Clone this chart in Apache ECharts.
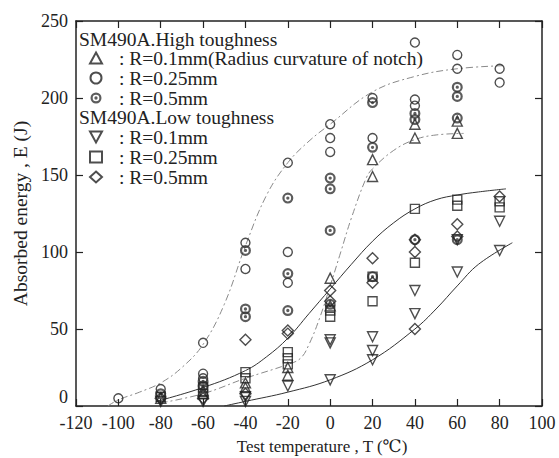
<!DOCTYPE html>
<html>
<head>
  <meta charset="utf-8">
  <title>Absorbed energy vs test temperature</title>
  <script src="https://cdn.jsdelivr.net/npm/echarts@6/dist/echarts.min.js"></script>
  <style>
    html, body { margin: 0; padding: 0; background: #fff; }
    #chart { width: 559px; height: 458px; }
  </style>
</head>
<body>
  <div id="chart"></div>
  <script>
    // SM490A high toughness, [temperature, energy]
    var hiR010 = [[-80,5],[-60,10],[-60,8],[-40,12],[-40,15],[-20,20],[-20,25],[0,83],[0,65],[20,160],[20,149],[40,183],[40,174],[60,185],[60,177]];
    var hiR025 = [[-100,5],[-80,11],[-60,41],[-60,21],[-60,18],[-40,106],[-40,89],[-20,158],[-20,100],[-20,80],[0,183],[0,174],[0,165],[20,200],[20,174],[40,236],[40,199],[40,195],[60,228],[60,219],[80,219],[80,210]];
    var hiR050 = [[-80,8],[-60,16],[-60,13],[-40,101],[-40,63],[-40,58],[-20,135],[-20,86],[-20,62],[0,148],[0,141],[0,114],[0,66],[20,197],[20,168],[20,84],[40,190],[40,186],[40,108],[60,207],[60,201],[60,187],[60,108]];
    // SM490A low toughness
    var loR010 = [[-80,3],[-60,3],[-40,3],[-40,6],[-20,13],[0,43],[0,41],[0,17],[20,45],[20,36],[20,30],[40,75],[40,60],[60,87],[60,108],[80,120],[80,101]];
    var loR025 = [[-80,6],[-60,8],[-60,12],[-40,22],[-40,18],[-20,35],[-20,31],[-20,27],[0,62],[0,58],[20,68],[20,84],[40,128],[40,93],[60,130],[60,134],[80,129],[80,133]];
    var loR050 = [[-80,5],[-60,5],[-40,43],[-40,8],[-20,47],[-20,49],[0,75],[0,68],[20,96],[20,80],[40,108],[40,100],[40,50],[60,118],[60,110],[80,136]];

    // hand drawn transition curves
    var curveHiR025 = [[-105,0],[-100,4],[-90,9],[-80,15],[-70,25],[-60,40],[-50,66],[-40,104],[-30,137],[-20,158],[-10,172],[0,183],[20,204],[40,214],[60,219],[82,221]];
    var curveHiR010 = [[-80,2],[-60,8],[-40,18],[-20,27],[-14,31],[-10,40],[-5,57],[0,78],[5,100],[10,122],[17,148],[20,154],[30,166],[40,173],[50,176],[63,177]];
    var curveLoR025 = [[-82,3],[-60,12],[-40,23],[-30,32],[-20,44],[-10,60],[0,76],[10,92],[20,107],[30,119],[40,128],[50,134],[60,137],[70,139],[83,141]];
    var curveLow = [[-50,0],[-40,3],[-20,9],[0,17],[20,30],[40,50],[50,63],[60,78],[70,92],[86,106]];

    var hiNames = ['hi01', 'hi025', 'hi05'];
    var loNames = ['lo01', 'lo025', 'lo05'];
    var labels = {
      hi01: ': R=0.1mm(Radius curvature of notch)',
      hi025: ': R=0.25mm',
      hi05: ': R=0.5mm',
      lo01: ': R=0.1mm',
      lo025: ': R=0.25mm',
      lo05: ': R=0.5mm'
    };

    var FONT = '"Liberation Serif", "DejaVu Serif", serif';
    var INK = '#222';
    var bullseye = 'path://M0,10A10,10,0,1,1,20,10A10,10,0,1,1,0,10ZM4,10A6,6,0,1,0,16,10A6,6,0,1,0,4,10ZM7,10A3,3,0,1,1,13,10A3,3,0,1,1,7,10Z';
    var triDown = 'path://M0,0L10,0L5,9Z';

    var hollow = { color: 'rgba(0,0,0,0)', borderColor: INK, borderWidth: 1.4 };

    function pointSeries(name, data, symbol, size, style) {
      return {
        name: name,
        type: 'scatter',
        data: data,
        symbol: symbol,
        symbolSize: size,
        itemStyle: style,
        z: 3
      };
    }

    function curveSeries(data, color, type) {
      return {
        type: 'line',
        data: data,
        smooth: 0.4,
        symbol: 'none',
        silent: true,
        lineStyle: { color: color, width: 1, type: type },
        z: 2
      };
    }

    function makeAxisX(pos, showLabel) {
      return {
        type: 'value',
        position: pos,
        min: -120, max: 100, interval: 20,
        axisLine: { onZero: false, lineStyle: { color: INK, width: 1.5 } },
        axisTick: { inside: true, length: 7, lineStyle: { color: INK, width: 1.2 } },
        axisLabel: { show: showLabel, margin: 8, fontSize: 18, fontFamily: FONT, color: INK },
        splitLine: { show: false }
      };
    }

    function makeAxisY(pos, showLabel) {
      return {
        type: 'value',
        position: pos,
        min: 0, max: 250, interval: 50,
        axisLine: { show: true, onZero: false, lineStyle: { color: INK, width: 1.5 } },
        axisTick: { show: true, inside: true, length: 7, lineStyle: { color: INK, width: 1.2 } },
        axisLabel: { show: showLabel, margin: 8, fontSize: 18, fontFamily: FONT, color: INK, verticalAlignMinLabel: 'bottom' },
        splitLine: { show: false }
      };
    }

    var xBottom = makeAxisX('bottom', true);
    xBottom.name = 'Test temperature , T (\u2103)';
    xBottom.nameLocation = 'middle';
    xBottom.nameGap = 32;
    xBottom.nameTextStyle = { fontSize: 17, fontFamily: FONT, color: INK, padding: [0, 0, 0, 26] };

    var yLeft = makeAxisY('left', true);
    yLeft.name = 'Absorbed energy , E (J)';
    yLeft.nameLocation = 'middle';
    yLeft.nameGap = 44;
    yLeft.nameTextStyle = { fontSize: 19.5, fontFamily: FONT, color: INK };

    function legendBox(names, top) {
      return {
        data: names,
        orient: 'vertical',
        left: 89,
        top: top,
        padding: 0,
        itemGap: 0,
        itemWidth: 12,
        itemHeight: 11,
        selectedMode: false,
        formatter: function (n) { return labels[n]; },
        textStyle: { fontSize: 19.5, fontFamily: FONT, color: INK, lineHeight: 19.5, padding: [0, 0, 0, 12] }
      };
    }

    var chart = echarts.init(document.getElementById('chart'), null, { renderer: 'svg' });

    var option = {
      backgroundColor: '#fff',
      animation: false,
      grid: { left: 76, right: 17, top: 21, bottom: 52, outerBoundsMode: 'none' },
      xAxis: [xBottom, makeAxisX('top', false)],
      yAxis: [yLeft, makeAxisY('right', false)],
      legend: [legendBox(hiNames, 48), legendBox(loNames, 127)],
      graphic: [
        { type: 'text', left: 79, top: 29, style: { text: 'SM490A.High toughness', font: '19.5px ' + FONT, fill: INK } },
        { type: 'text', left: 79, top: 107, style: { text: 'SM490A.Low toughness', font: '19.5px ' + FONT, fill: INK } }
      ],
      series: [
        curveSeries(curveHiR025, '#8a8a8a', [7, 3, 2, 3]),
        curveSeries(curveHiR010, '#8a8a8a', [7, 3, 2, 3]),
        curveSeries(curveLoR025, '#333', 'solid'),
        curveSeries(curveLow, '#333', 'solid'),
        pointSeries('hi01', hiR010, 'triangle', 10, hollow),
        pointSeries('hi025', hiR025, 'circle', 9, hollow),
        pointSeries('hi05', hiR050, bullseye, 11, { color: '#333' }),
        pointSeries('lo01', loR010, triDown, 10, hollow),
        pointSeries('lo025', loR025, 'rect', 9, hollow),
        pointSeries('lo05', loR050, 'diamond', 11, hollow)
      ]
    };

    chart.setOption(option);
  </script>
</body>
</html>
